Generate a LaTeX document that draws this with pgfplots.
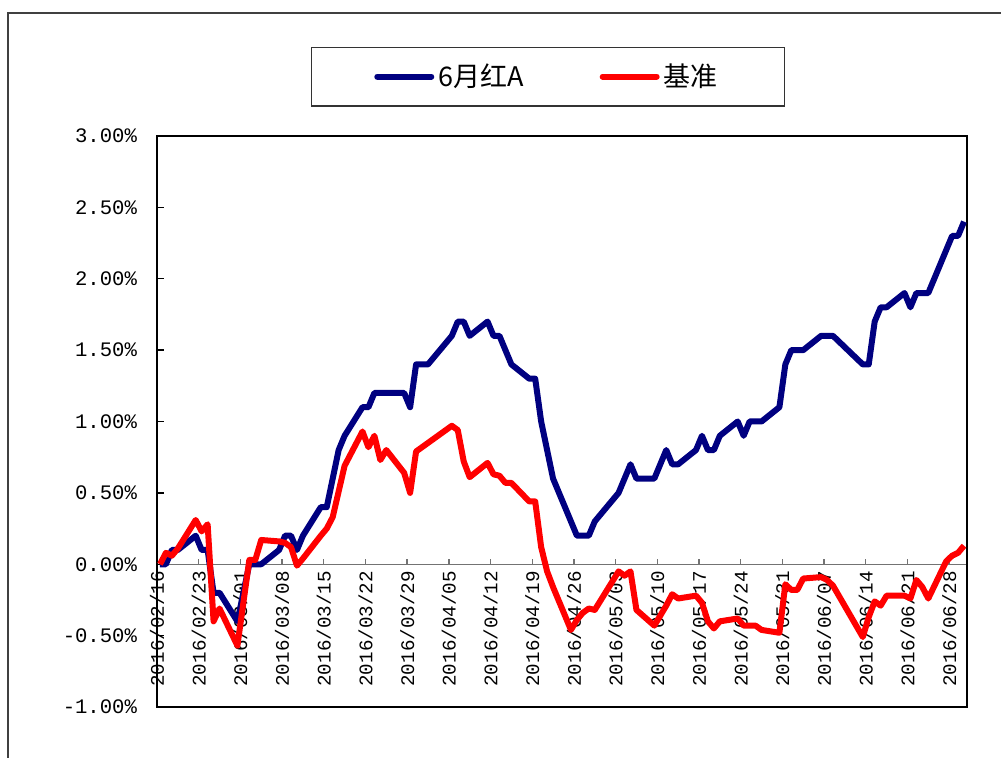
\documentclass[border=0pt]{standalone}
\usepackage{fontspec}
\setmainfont{Liberation Serif}
\setmonofont{Liberation Mono}
\newfontfamily\cjk{Noto Sans CJK SC}
\usepackage{pgfplots}
\pgfplotsset{compat=1.18}
\definecolor{navyblue}{RGB}{0,0,128}
\definecolor{pured}{RGB}{255,0,0}

\begin{document}
\begin{tikzpicture}
\useasboundingbox (0pt,0pt) rectangle (500.5pt,-379pt);
\draw[line width=0.7pt, black!75] (4pt,-6.5pt) rectangle (530pt,-420pt);

% zero line with date labels
\begin{axis}[
  at={(78.5pt,-353.5pt)}, anchor=south west, scale only axis,
  width=405pt, height=285.5pt,
  xmin=0, xmax=136, ymin=-1, ymax=3,
  axis y line=none, axis x line*=middle,
  x axis line style={black!55, line width=0.7pt},
  xtick={0,7,...,133},
  xticklabels={2016/02/16,2016/02/23,2016/03/01,2016/03/08,2016/03/15,2016/03/22,2016/03/29,2016/04/05,2016/04/12,2016/04/19,2016/04/26,2016/05/03,2016/05/10,2016/05/17,2016/05/24,2016/05/31,2016/06/07,2016/06/14,2016/06/21,2016/06/28},
  x tick label style={rotate=90, anchor=east, font=\ttfamily\fontsize{9.6}{10}\selectfont, text=black},
  xtick style={black!55, line width=0.7pt},
  major tick length=2.5pt,
  tick align=inside,
]
\end{axis}

\begin{axis}[
  at={(78.5pt,-353.5pt)}, anchor=south west, scale only axis,
  width=405pt, height=285.5pt,
  xmin=0, xmax=136, ymin=-1, ymax=3,
  xtick=\empty,
  ytick={-1,-0.5,0,0.5,1,1.5,2,2.5,3},
  ytick pos=left,
  /pgf/number format/assume math mode=true,
  yticklabel={\pgfmathprintnumber[fixed,fixed zerofill,precision=2]{\tick}\%},
  y tick label style={font=\ttfamily\fontsize{10.3}{11}\selectfont, xshift=-6.5pt},
  ytick style={black, line width=0.7pt},
  major tick length=3.5pt,
  tick align=inside,
  axis line style={black, line width=0.7pt},
  legend columns=2,
  legend style={at={(0.4827,1.104)}, anchor=center, draw=black!80, line width=0.6pt,
    inner xsep=31.5pt, inner ysep=6.3pt,
    font=\fontsize{13.5}{15}\selectfont\cjk,
    /tikz/every even column/.append style={column sep=36pt}},
  legend image code/.code={\draw[#1, line cap=round] (0pt,0pt) -- (27pt,0pt);},
]
\addplot[navyblue, line width=3pt, line join=round] table {
0.5 0
1.5 0
2.5 0.1
3.5 0.1
6.5 0.2
7.5 0.1
8.5 0.1
9.5 -0.2
10.5 -0.2
13.5 -0.4
14.5 -0.2
15.5 0
16.5 0
17.5 0
20.5 0.1
21.5 0.2
22.5 0.2
23.5 0.1
24.5 0.2
27.5 0.4
28.5 0.4
29.5 0.6
30.5 0.8
31.5 0.9
34.5 1.1
35.5 1.1
36.5 1.2
37.5 1.2
38.5 1.2
41.5 1.2
42.5 1.1
43.5 1.4
44.5 1.4
45.5 1.4
49.5 1.6
50.5 1.7
51.5 1.7
52.5 1.6
55.5 1.7
56.5 1.6
57.5 1.6
58.5 1.5
59.5 1.4
62.5 1.3
63.5 1.3
64.5 1.0
65.5 0.8
66.5 0.6
69.5 0.3
70.5 0.2
71.5 0.2
72.5 0.2
73.5 0.3
77.5 0.5
78.5 0.6
79.5 0.7
80.5 0.6
83.5 0.6
84.5 0.7
85.5 0.8
86.5 0.7
87.5 0.7
90.5 0.8
91.5 0.9
92.5 0.8
93.5 0.8
94.5 0.9
97.5 1.0
98.5 0.9
99.5 1.0
100.5 1.0
101.5 1.0
104.5 1.1
105.5 1.4
106.5 1.5
107.5 1.5
108.5 1.5
111.5 1.6
112.5 1.6
113.5 1.6
118.5 1.4
119.5 1.4
120.5 1.7
121.5 1.8
122.5 1.8
125.5 1.9
126.5 1.8
127.5 1.9
128.5 1.9
129.5 1.9
132.5 2.2
133.5 2.3
134.5 2.3
135.5 2.4
};
\addlegendentry{6月红A}
\addplot[pured, line width=3pt, line join=round] table {
0.5 0
1.5 0.08
2.5 0.06
3.5 0.11
6.5 0.31
7.5 0.23
8.5 0.28
9.5 -0.40
10.5 -0.31
13.5 -0.57
14.5 -0.27
15.5 0.03
16.5 0.03
17.5 0.17
20.5 0.16
21.5 0.15
22.5 0.12
23.5 -0.01
24.5 0.04
27.5 0.20
28.5 0.25
29.5 0.33
30.5 0.51
31.5 0.69
34.5 0.93
35.5 0.82
36.5 0.90
37.5 0.73
38.5 0.80
41.5 0.64
42.5 0.50
43.5 0.79
44.5 0.82
45.5 0.85
49.5 0.97
50.5 0.94
51.5 0.72
52.5 0.61
55.5 0.71
56.5 0.63
57.5 0.62
58.5 0.57
59.5 0.57
62.5 0.44
63.5 0.44
64.5 0.12
65.5 -0.05
66.5 -0.16
69.5 -0.46
70.5 -0.39
71.5 -0.34
72.5 -0.31
73.5 -0.32
77.5 -0.05
78.5 -0.08
79.5 -0.05
80.5 -0.32
83.5 -0.43
84.5 -0.36
85.5 -0.29
86.5 -0.21
87.5 -0.24
90.5 -0.22
91.5 -0.27
92.5 -0.40
93.5 -0.45
94.5 -0.40
97.5 -0.38
98.5 -0.43
99.5 -0.43
100.5 -0.43
101.5 -0.46
104.5 -0.48
105.5 -0.14
106.5 -0.18
107.5 -0.18
108.5 -0.10
111.5 -0.09
112.5 -0.11
113.5 -0.15
118.5 -0.51
119.5 -0.37
120.5 -0.26
121.5 -0.29
122.5 -0.22
125.5 -0.22
126.5 -0.24
127.5 -0.11
128.5 -0.16
129.5 -0.24
132.5 0.02
133.5 0.06
134.5 0.08
135.5 0.13
};
\addlegendentry{基准}
\end{axis}
\end{tikzpicture}
\end{document}
